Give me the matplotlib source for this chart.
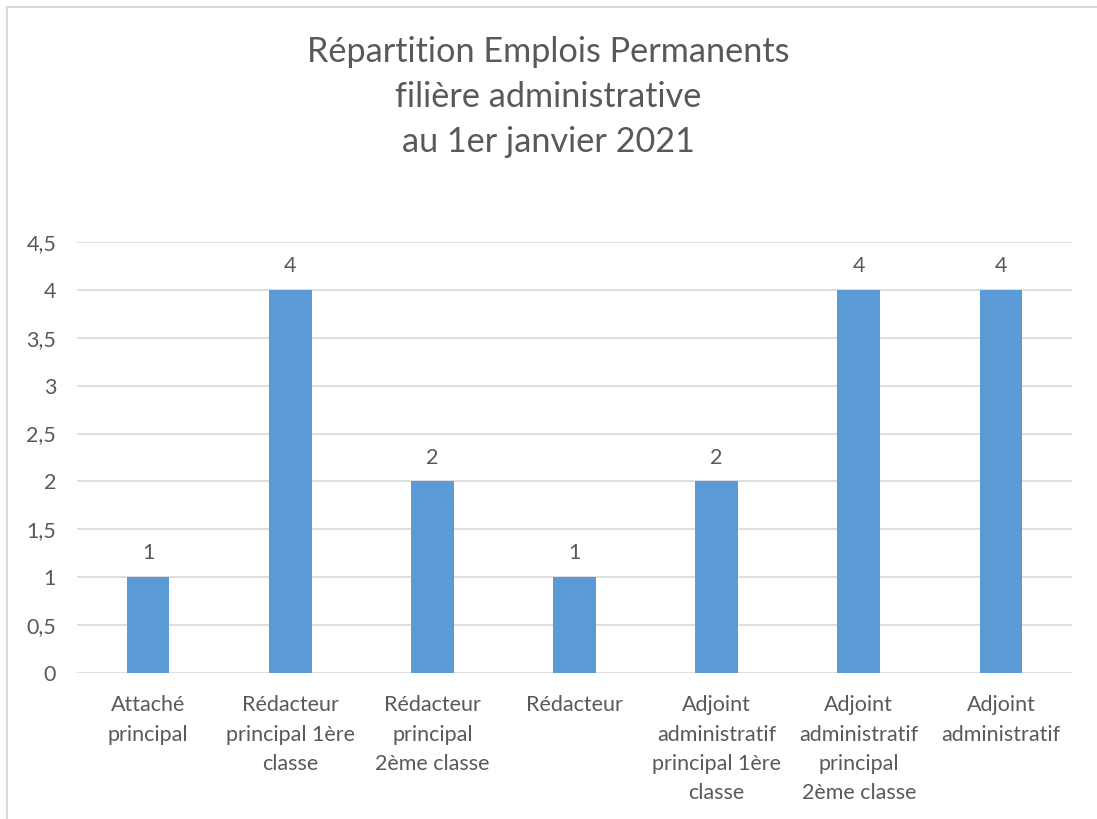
import matplotlib
matplotlib.use("Agg")
import matplotlib.pyplot as plt
from matplotlib.lines import Line2D

categories = ["Attaché\nprincipal", "Rédacteur\nprincipal 1ère\nclasse", "Rédacteur\nprincipal\n2ème classe",
              "Rédacteur", "Adjoint\nadministratif\nprincipal 1ère\nclasse",
              "Adjoint\nadministratif\nprincipal\n2ème classe", "Adjoint\nadministratif"]
values = [1, 4, 2, 1, 2, 4, 4]
yticks = [0, 0.5, 1, 1.5, 2, 2.5, 3, 3.5, 4, 4.5]
ytick_labels = ["0", "0,5", "1", "1,5", "2", "2,5", "3", "3,5", "4", "4,5"]
title = "Répartition Emplois Permanents\nfilière administrative\nau 1er janvier 2021"

plt.rcParams['font.family'] = ['Lato', 'DejaVu Sans']
W, H = 1097, 819
fig = plt.figure(figsize=(W/100, H/100), dpi=100)
text_col = "#595959"
bar_col = "#5B9BD5"
grid_col = "#D9D9D9"
fs = 15.5

ax = fig.add_axes([77/W, 1-673/H, (1072-77)/W, (673-242)/H])
x = list(range(len(values)))
ax.bar(x, values, width=0.3, color=bar_col, zorder=3)
ax.set_xlim(-0.5, len(values)-0.5)
ax.set_ylim(0, 4.5)
ax.set_yticks(yticks)
ax.set_yticklabels(ytick_labels)
ax.set_xticks(x)
ax.set_xticklabels(categories, linespacing=1.58)
ax.grid(axis='y', color=grid_col, linewidth=1.2, zorder=0)
for s in ax.spines.values():
    s.set_visible(False)
ax.tick_params(axis='both', length=0, colors=text_col, labelsize=fs)
ax.tick_params(axis='y', pad=15)
ax.tick_params(axis='x', pad=16)
for xi, v in zip(x, values):
    ax.annotate(str(v), (xi, v), xytext=(0, 10), textcoords='offset points',
                ha='center', va='bottom', fontsize=fs, color=text_col)

fig.text(0.5, 1-97/H, title, ha='center', va='center', fontsize=24.7,
         color=text_col, linespacing=1.5)

# chart border (left and top)
fig.add_artist(Line2D([6.5/W, 6.5/W], [0, 1-6.5/H], transform=fig.transFigure, color=grid_col, lw=1.5))
fig.add_artist(Line2D([6.5/W, 1], [1-6.5/H, 1-6.5/H], transform=fig.transFigure, color=grid_col, lw=1.5))

fig.savefig("out.png", dpi=100)
